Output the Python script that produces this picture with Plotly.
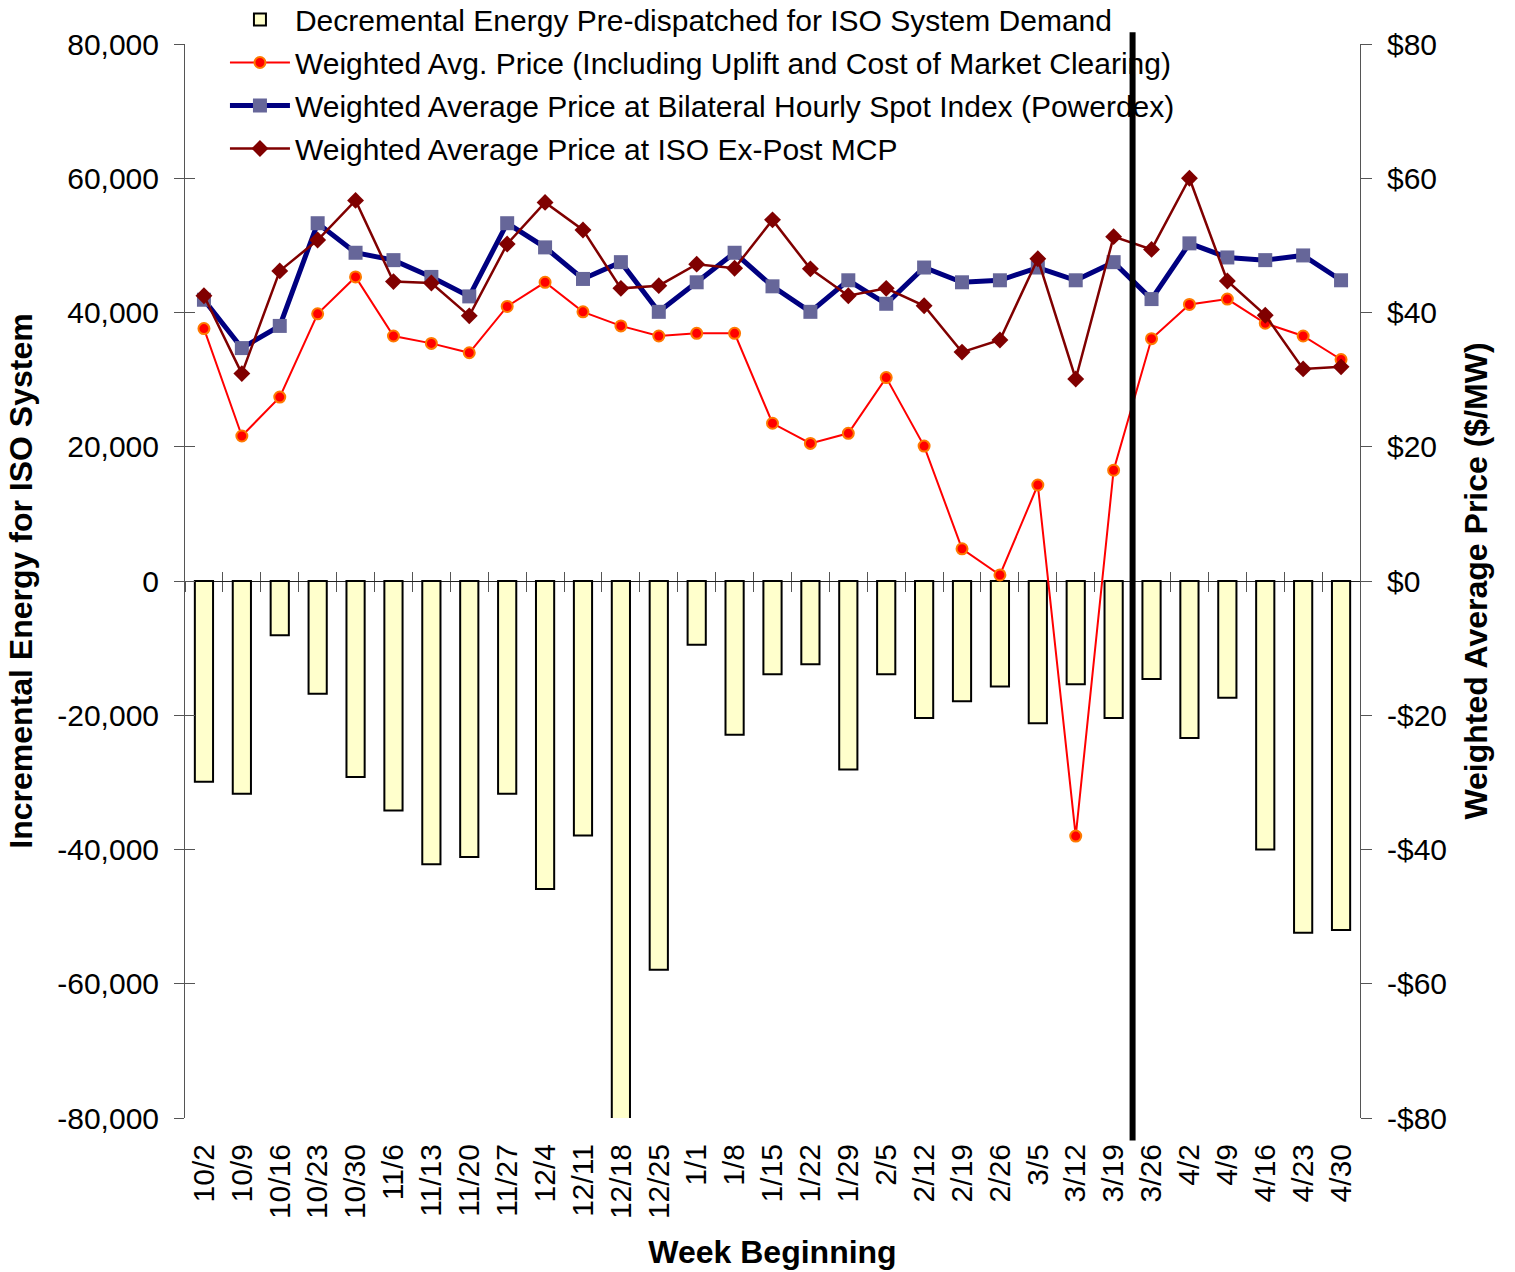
import plotly.graph_objects as go

weeks = ["10/2", "10/9", "10/16", "10/23", "10/30", "11/6", "11/13", "11/20", "11/27",
         "12/4", "12/11", "12/18", "12/25", "1/1", "1/8", "1/15", "1/22", "1/29",
         "2/5", "2/12", "2/19", "2/26", "3/5", "3/12", "3/19", "3/26", "4/2", "4/9",
         "4/16", "4/23", "4/30"]

decremental_energy = [-29900, -31700, -8100, -16800, -29200, -34200, -42200, -41100, -31700,
                      -45900, -37900, -80300, -57900, -9500, -22900, -13900, -12400, -28100,
                      -13900, -20400, -17900, -15700, -21200, -15400, -20400, -14600, -23400,
                      -17400, -40000, -52400, -52000]

weighted_avg_price = [37.6, 21.6, 27.4, 39.8, 45.3, 36.5, 35.4, 34.0, 40.9,
                      44.5, 40.1, 38.0, 36.5, 36.9, 36.9, 23.5, 20.5, 22.0,
                      30.3, 20.1, 4.8, 0.9, 14.3, -38.0, 16.5, 36.1, 41.2,
                      42.0, 38.4, 36.5, 33.0]

powerdex_price = [41.9, 34.7, 38.0, 53.3, 48.9, 47.8, 45.3, 42.4, 53.3,
                  49.7, 45.0, 47.5, 40.1, 44.5, 48.9, 43.9, 40.1, 44.8,
                  41.3, 46.7, 44.5, 44.8, 46.7, 44.8, 47.5, 42.0, 50.3,
                  48.2, 47.8, 48.5, 44.8]

expost_mcp = [42.5, 30.9, 46.2, 50.8, 56.7, 44.6, 44.4, 39.5, 50.2,
              56.4, 52.3, 43.6, 44.0, 47.2, 46.6, 53.8, 46.5, 42.5,
              43.6, 41.0, 34.1, 35.9, 48.0, 30.1, 51.3, 49.4, 60.0,
              44.7, 39.6, 31.6, 31.9]

left_ticks = [-80000, -60000, -40000, -20000, 0, 20000, 40000, 60000, 80000]
left_tick_text = ["-80,000", "-60,000", "-40,000", "-20,000", "0",
                  "20,000", "40,000", "60,000", "80,000"]
right_ticks = [-80, -60, -40, -20, 0, 20, 40, 60, 80]
right_tick_text = ["-$80", "-$60", "-$40", "-$20", "$0", "$20", "$40", "$60", "$80"]
divider_after = "3/19"

FONT = "Liberation Sans, Arial, sans-serif"

fig = go.Figure()

fig.add_trace(go.Bar(
    x=weeks, y=decremental_energy, name="Decremental Energy Pre-dispatched for ISO System Demand",
    marker=dict(color="#FFFFCC", line=dict(color="black", width=2)),
    width=0.48, xaxis="x", yaxis="y", legendgroup="a",
))
fig.add_trace(go.Scatter(
    x=weeks, y=weighted_avg_price, mode="lines+markers",
    name="Weighted Avg. Price (Including Uplift and Cost of Market Clearing)",
    line=dict(color="#FF0000", width=2),
    marker=dict(symbol="circle", size=11, color="#FF0000", line=dict(color="#FF7A00", width=2)),
    xaxis="x2", yaxis="y2", legendgroup="b",
))
fig.add_trace(go.Scatter(
    x=weeks, y=powerdex_price, mode="lines+markers",
    name="Weighted Average Price at Bilateral Hourly Spot Index (Powerdex)",
    line=dict(color="#000080", width=5),
    marker=dict(symbol="square", size=14, color="#666699"),
    xaxis="x2", yaxis="y2", legendgroup="c",
))
fig.add_trace(go.Scatter(
    x=weeks, y=expost_mcp, mode="lines+markers",
    name="Weighted Average Price at ISO Ex-Post MCP",
    line=dict(color="#800000", width=2.5),
    marker=dict(symbol="diamond", size=13, color="#800000"),
    xaxis="x2", yaxis="y2", legendgroup="d",
))
# invisible helpers so the extra tick axes render
fig.add_trace(go.Scatter(x=weeks, y=[None] * len(weeks), mode="lines", showlegend=False,
                         hoverinfo="skip", xaxis="x3", yaxis="y"))
fig.add_trace(go.Scatter(x=weeks, y=[None] * len(weeks), mode="lines", showlegend=False,
                         hoverinfo="skip", xaxis="x", yaxis="y3"))

xr = [-0.5, len(weeks) - 0.5]
common_x = dict(type="category", categoryorder="array", categoryarray=weeks, range=xr,
                showgrid=False, zeroline=False, automargin=False)

div_x = weeks.index(divider_after) + 0.5

fig.update_layout(
    template="none",
    width=1515, height=1272,
    margin=dict(l=185, r=155, t=44, b=154, autoexpand=False),
    paper_bgcolor="white", plot_bgcolor="white",
    font=dict(family=FONT, size=30, color="black"),
    showlegend=True,
    legend=dict(x=0.034, y=1.047, xanchor="left", yanchor="top",
                bgcolor="rgba(0,0,0,0)", borderwidth=0, font=dict(size=30, family=FONT),
                tracegroupgap=1, itemwidth=60),
    bargap=0.52,
    xaxis=dict(**common_x, showline=False, ticks="", tickangle=-90,
               tickfont=dict(size=30), ticklabelstandoff=19,
               title=dict(text="<b>Week Beginning</b>", font=dict(size=32), standoff=22)),
    xaxis2=dict(**common_x, overlaying="x", anchor="free", position=0.5, showline=False,
                ticks="outside", ticklen=10, tickcolor="#555555", tickwidth=1,
                tickson="boundaries", showticklabels=False),
    xaxis3=dict(**common_x, overlaying="x", anchor="free", position=0.5, showline=False,
                ticks="inside", ticklen=9, tickcolor="#555555", tickwidth=1,
                tickson="boundaries", showticklabels=False),
    yaxis=dict(range=[-80000, 80000], tickvals=left_ticks, ticktext=left_tick_text,
               automargin=False,
               showgrid=False, zeroline=True, zerolinecolor="#222222", zerolinewidth=1,
               showline=True, linecolor="#555555", linewidth=1,
               ticks="outside", ticklen=10, tickcolor="#555555",
               ticklabelstandoff=9,
               title=dict(text="<b>Incremental Energy for ISO System</b>", font=dict(size=32),
                          standoff=15)),
    yaxis3=dict(range=[-80000, 80000], tickvals=left_ticks, overlaying="y", side="left",
                automargin=False,
                showgrid=False, zeroline=False, showline=False, showticklabels=False,
                ticks="inside", ticklen=10, tickcolor="#555555"),
    yaxis2=dict(range=[-80, 80], tickvals=right_ticks, ticktext=right_tick_text,
                overlaying="y", side="right", anchor="x", automargin=False,
                showgrid=False, zeroline=False,
                showline=True, linecolor="#555555", linewidth=1,
                ticks="outside", ticklen=11, tickcolor="#555555",
                ticklabelstandoff=9,
                title=dict(text="<b>Weighted Average Price ($/MW)</b>", font=dict(size=32),
                           standoff=18)),
    shapes=[dict(type="line", xref="x", yref="paper", x0=div_x, x1=div_x,
                 y0=-0.021, y1=1.011, line=dict(color="black", width=6))],
)

fig.write_html("out.html", config={"displayModeBar": False},
               post_script="document.body.style.margin='0px';")
